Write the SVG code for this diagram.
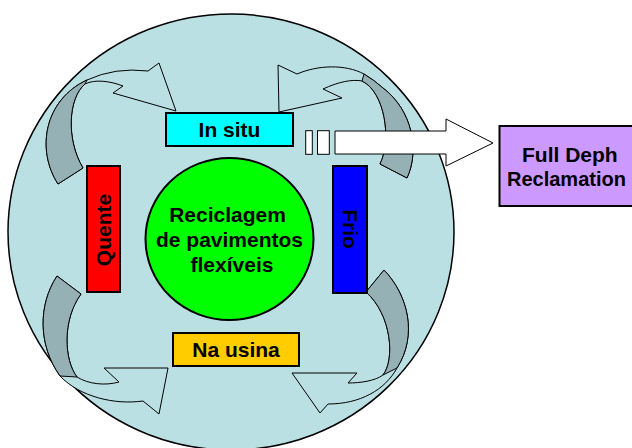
<svg xmlns="http://www.w3.org/2000/svg" width="632" height="448" viewBox="0 0 632 448">
<style>
.lbl{font-family:"Liberation Sans",Arial,sans-serif;font-weight:bold;font-size:21px;fill:#000}
.box{stroke:#000;stroke-width:2}
.light{fill:#BBE0E3;stroke:#000;stroke-width:1}
.dark{fill:#96B1B5;stroke:#000;stroke-width:1}
.white{fill:#fff;stroke:#000;stroke-width:1}
</style>
<rect width="632" height="448" fill="#fff"/>
<ellipse id="bg" cx="231" cy="232" rx="223" ry="218" fill="#BBE0E3" stroke="#000" stroke-width="1.5"/>
<g id="connectors">
  <g id="arrow-tl">
    <path class="light" d="M58,184 C36,150 44,100 87,80 Q115,67 148,71 L159,63 L176,111 L113,93 L123,86 C110,81 95,79 85,84 C68,98 66,140 83,168 Z"/>
    <path class="dark" d="M58,184 C36,150 44,100 87,80 L85,84 C68,98 66,140 83,168 Z"/>
  </g>
  <g id="arrow-tr">
    <path class="light" d="M407,178 C420,150 412,110 383,88 Q374,80 364,74 C345,64 318,65 297,74 L278,65 L279,112 L342,98 L323,89 C338,82 352,79 362,81 C385,92 392,140 380,164 Z"/>
    <path class="dark" d="M407,178 C420,150 412,110 383,88 Q374,80 364,74 L362,81 C385,92 392,140 380,164 Z"/>
  </g>
  <g id="arrow-bl">
    <path class="light" d="M57,276 C38,305 38,345 60,376 C80,397 115,405 143,401 L159,414 L168,368 L104,368 L119,382 C105,386 88,384 77,377 C64,360 62,320 81,294 Z"/>
    <path class="dark" d="M57,276 C38,305 38,345 60,376 L77,377 C64,360 62,320 81,294 Z"/>
  </g>
  <g id="arrow-br">
    <path class="light" d="M384,270 C408,295 418,335 397,368 C385,390 360,404 328,404 L320,413 L292,373 L357,373 L348,383 C360,383 375,381 383,375 C395,360 392,315 366,292 Z"/>
    <path class="dark" d="M384,270 C408,295 418,335 397,368 L383,375 C395,360 392,315 366,292 Z"/>
  </g>
  <g id="arrow-fdr">
    <rect class="white" x="305.7" y="130.7" width="6.6" height="23.6"/>
    <rect class="white" x="317.5" y="130.7" width="11.8" height="23.6"/>
    <path class="white" d="M335,131 H446 V119 L493,143 L446,166 V154 H335 Z"/>
  </g>
</g>
<g id="in-situ">
  <rect class="box" x="166" y="113" width="127" height="33" fill="#00FFFF"/>
  <text class="lbl" x="229.5" y="137" text-anchor="middle">In situ</text>
</g>
<g id="quente">
  <rect class="box" x="87" y="166" width="33" height="126" fill="#FF0000"/>
  <text class="lbl" transform="translate(111,230) rotate(-90)" text-anchor="middle">Quente</text>
</g>
<g id="frio">
  <rect class="box" x="333" y="166" width="34" height="127" fill="#0000FF"/>
  <text class="lbl" transform="translate(342.5,229) rotate(90)" text-anchor="middle">Frio</text>
</g>
<g id="na-usina">
  <rect class="box" x="173" y="333" width="126" height="33" fill="#FFCC00"/>
  <text class="lbl" x="236" y="356.5" text-anchor="middle">Na usina</text>
</g>
<g id="center">
  <ellipse cx="229.5" cy="239" rx="84" ry="81" fill="#00FF00" stroke="#000" stroke-width="2"/>
  <text class="lbl" x="227.5" y="222" text-anchor="middle">Reciclagem</text>
  <text class="lbl" x="229.5" y="247" text-anchor="middle">de pavimentos</text>
  <text class="lbl" x="232" y="272" text-anchor="middle">flexíveis</text>
</g>
<g id="fdr">
  <rect class="box" x="499.5" y="126" width="150" height="80" fill="#CC99FF"/>
  <text class="lbl" x="522" y="162">Full Deph</text>
  <text class="lbl" x="507" y="186" style="font-size:20px">Reclamation</text>
</g>
</svg>
